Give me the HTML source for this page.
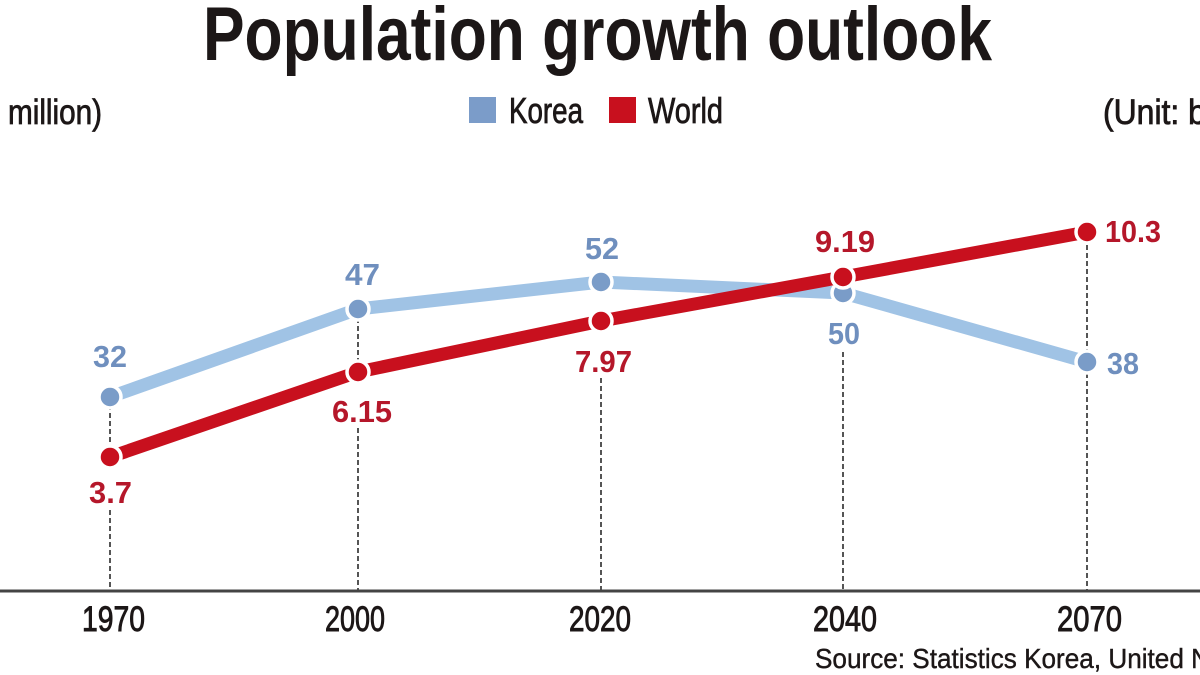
<!DOCTYPE html>
<html>
<head>
<meta charset="utf-8">
<style>
  html, body { margin:0; padding:0; background:#ffffff; }
  svg { display:block; }
  text { font-family: "Liberation Sans Narrow", "Liberation Sans", sans-serif; }
</style>
</head>
<body>
<svg width="1200" height="675" viewBox="0 0 1200 675" xmlns="http://www.w3.org/2000/svg">
  <rect width="1200" height="675" fill="#ffffff"/>

  <!-- Title -->
  <text x="203" y="60" font-size="76" font-weight="bold" fill="#1c1717" textLength="789" lengthAdjust="spacingAndGlyphs">Population growth outlook</text>

  <!-- Unit labels -->
  <g fill="#1c1717" stroke="#1c1717" stroke-width="0.8">
    <text x="8" y="124" font-size="35" textLength="94" lengthAdjust="spacingAndGlyphs">million)</text>
    <text x="1103" y="124" font-size="35" textLength="110" lengthAdjust="spacingAndGlyphs">(Unit: bi</text>
  </g>

  <!-- Legend -->
  <rect x="469" y="97" width="27" height="26" fill="#7b9cc9"/>
  <rect x="609" y="97" width="27" height="26" fill="#c8101e"/>
  <g fill="#1c1717" stroke="#1c1717" stroke-width="0.8">
    <text x="509" y="123" font-size="36" textLength="74" lengthAdjust="spacingAndGlyphs">Korea</text>
    <text x="648" y="123" font-size="36" textLength="75" lengthAdjust="spacingAndGlyphs">World</text>
  </g>

  <!-- Dashed guides -->
  <g stroke="#555555" stroke-width="2" stroke-dasharray="5,3" fill="none">
    <line x1="110" y1="405" x2="110" y2="450"/>
    <line x1="110" y1="510" x2="110" y2="590"/>
    <line x1="358" y1="318" x2="358" y2="365"/>
    <line x1="358" y1="428" x2="358" y2="590"/>
    <line x1="601" y1="378" x2="601" y2="590"/>
    <line x1="843" y1="352" x2="843" y2="590"/>
    <line x1="1087" y1="245" x2="1087" y2="590"/>
  </g>

  <!-- Axis -->
  <line x1="0" y1="591" x2="1200" y2="591" stroke="#444444" stroke-width="3"/>

  <!-- Korea series -->
  <polyline points="110,397 358,309 601,282 843,293 1087,362" fill="none" stroke="#a0c3e5" stroke-width="13" stroke-linejoin="round"/>
  <g fill="#7a9cc8" stroke="#ffffff" stroke-width="3.5">
    <circle cx="110" cy="397" r="11"/>
    <circle cx="358" cy="309" r="11"/>
    <circle cx="601" cy="282" r="11"/>
    <circle cx="843" cy="293" r="11"/>
    <circle cx="1087" cy="362" r="11"/>
  </g>

  <!-- World series -->
  <polyline points="110,457 358,372 601,321 843,277 1087,232" fill="none" stroke="#c8101e" stroke-width="13" stroke-linejoin="round"/>
  <g fill="#c8101e" stroke="#ffffff" stroke-width="3.5">
    <circle cx="110" cy="457" r="11"/>
    <circle cx="358" cy="372" r="11"/>
    <circle cx="601" cy="321" r="11"/>
    <circle cx="843" cy="277" r="11"/>
    <circle cx="1087" cy="232" r="11"/>
  </g>

  <!-- Korea labels -->
  <g font-size="31" font-weight="bold" fill="#6f8fbe">
    <text x="93" y="367" textLength="34" lengthAdjust="spacingAndGlyphs">32</text>
    <text x="345" y="285" textLength="35" lengthAdjust="spacingAndGlyphs">47</text>
    <text x="585" y="259" textLength="34" lengthAdjust="spacingAndGlyphs">52</text>
    <text x="828" y="344" textLength="32" lengthAdjust="spacingAndGlyphs">50</text>
    <text x="1107" y="374" textLength="32" lengthAdjust="spacingAndGlyphs">38</text>
  </g>

  <!-- World labels -->
  <g font-size="31" font-weight="bold" fill="#b5172a">
    <text x="89" y="503" textLength="43" lengthAdjust="spacingAndGlyphs">3.7</text>
    <text x="332" y="422" textLength="60" lengthAdjust="spacingAndGlyphs">6.15</text>
    <text x="575" y="372" textLength="57" lengthAdjust="spacingAndGlyphs">7.97</text>
    <text x="815" y="252" textLength="60" lengthAdjust="spacingAndGlyphs">9.19</text>
    <text x="1105" y="242" textLength="56" lengthAdjust="spacingAndGlyphs">10.3</text>
  </g>

  <!-- X axis labels -->
  <g font-size="35" fill="#1c1717" stroke="#1c1717" stroke-width="0.9">
    <text x="82" y="631" textLength="63" lengthAdjust="spacingAndGlyphs">1970</text>
    <text x="325" y="631" textLength="60" lengthAdjust="spacingAndGlyphs">2000</text>
    <text x="569" y="631" textLength="62" lengthAdjust="spacingAndGlyphs">2020</text>
    <text x="813" y="631" textLength="64" lengthAdjust="spacingAndGlyphs">2040</text>
    <text x="1057" y="631" textLength="65" lengthAdjust="spacingAndGlyphs">2070</text>
  </g>

  <!-- Source -->
  <text x="815" y="668" font-size="28" fill="#1c1717" stroke="#1c1717" stroke-width="0.4" textLength="395" lengthAdjust="spacingAndGlyphs">Source: Statistics Korea, United N</text>
</svg>
</body>
</html>
